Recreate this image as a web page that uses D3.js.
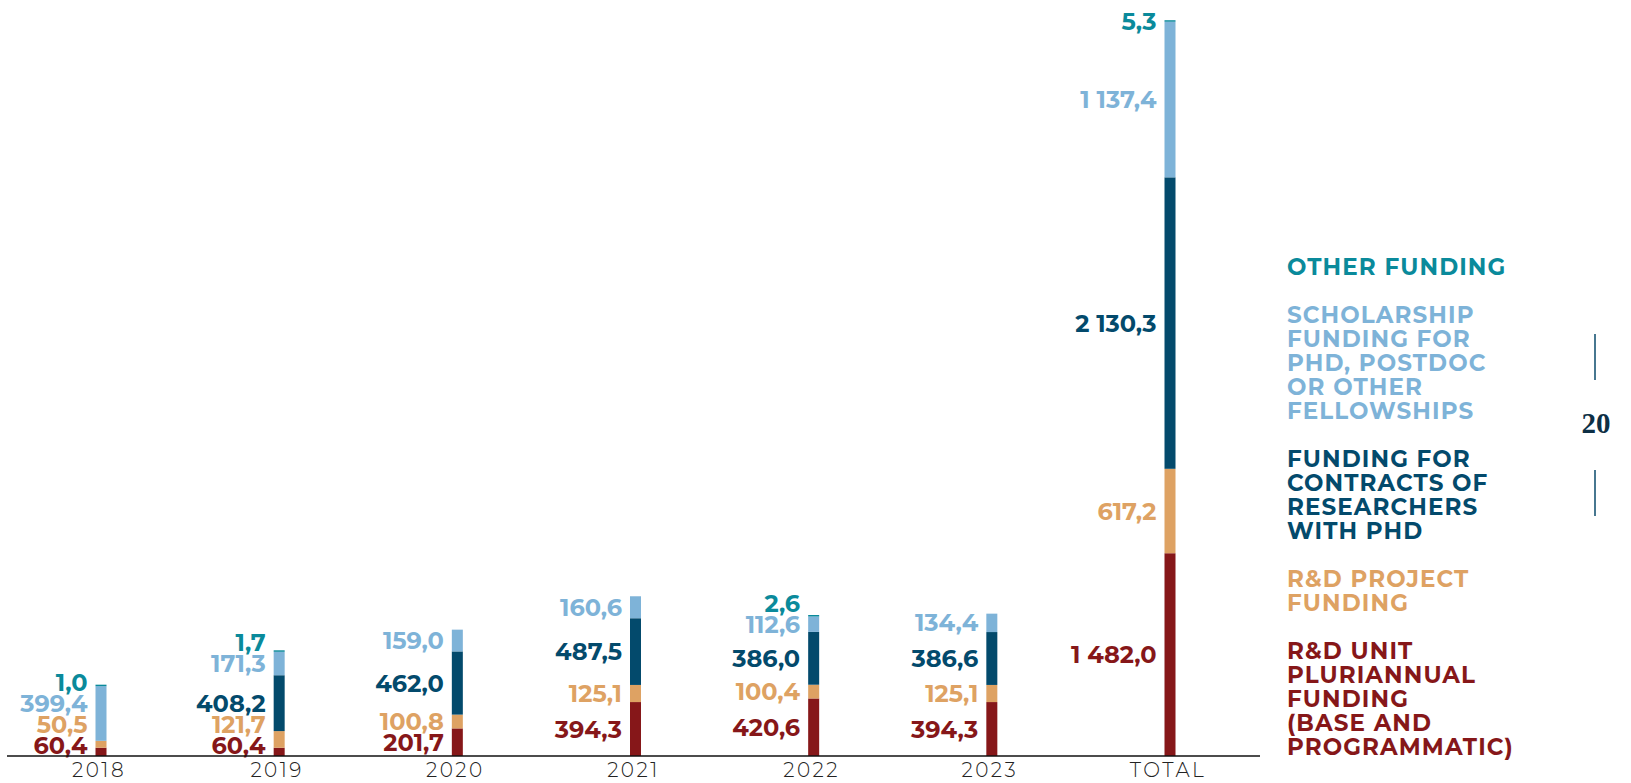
<!DOCTYPE html>
<html lang="en">
<head>
	<meta charset="UTF-8">
	<title>R&amp;D funding</title>
	<script src="https://cdn.jsdelivr.net/npm/d3@7"></script>
	<style>
	body {
		margin: 0;
		background-color: #ffffff;
	}

	.value {
		font-family: Montserrat, Inter, sans-serif;
		font-weight: 700;
		font-size: 24px;
	}

	.year {
		font-family: Montserrat, Inter, sans-serif;
		font-weight: 300;
		font-size: 20px;
		letter-spacing: 2.5px;
		fill: #222;
	}

	.legend {
		font-family: Montserrat, Inter, sans-serif;
		font-weight: 700;
		font-size: 23px;
		letter-spacing: 1.1px;
	}
	</style>
</head>
<body>
<div id="chart"></div>

<script>
	// values in million euro
	var years = ['2018', '2019', '2020', '2021', '2022', '2023', 'TOTAL'];
	var unitFunding = [60.4, 60.4, 201.7, 394.3, 420.6, 394.3, 1482.0];
	var projectFunding = [50.5, 121.7, 100.8, 125.1, 100.4, 125.1, 617.2];
	var contractFunding = [0, 408.2, 462.0, 487.5, 386.0, 386.6, 2130.3];
	var scholarshipFunding = [399.4, 171.3, 159.0, 160.6, 112.6, 134.4, 1137.4];
	var otherFunding = [1.0, 1.7, 0, 0, 2.6, 0, 5.3];

	var seriesKeys = ['unit', 'project', 'contract', 'scholarship', 'other'];
	var seriesColors = ['#861719', '#dea263', '#034a6c', '#7eb3d8', '#0a8a9b'];
	var legendLabels = {
		other: ['OTHER FUNDING'],
		scholarship: ['SCHOLARSHIP', 'FUNDING FOR', 'PHD, POSTDOC', 'OR OTHER', 'FELLOWSHIPS'],
		contract: ['FUNDING FOR', 'CONTRACTS OF', 'RESEARCHERS', 'WITH PHD'],
		project: ['R&D PROJECT', 'FUNDING'],
		unit: ['R&D UNIT', 'PLURIANNUAL', 'FUNDING', '(BASE AND', 'PROGRAMMATIC)']
	};

	var width = 1631, height = 783;
	var axisY = 756, topY = 21;
	var barWidth = 11;

	var svg = d3.select('#chart')
		.append('svg')
		.attr('width', width)
		.attr('height', height);

	var rows = years.map(function (y, i) {
		return {
			year: y,
			unit: unitFunding[i],
			project: projectFunding[i],
			contract: contractFunding[i],
			scholarship: scholarshipFunding[i],
			other: otherFunding[i]
		};
	});

	var stacked = d3.stack().keys(seriesKeys)(rows);

	var color = d3.scaleOrdinal()
		.domain(seriesKeys)
		.range(seriesColors);

	var x = d3.scalePoint()
		.domain(years)
		.range([101, 1170]);

	var y = d3.scaleLinear()
		.domain([0, d3.max(stacked[stacked.length - 1], function (d) { return d[1]; })])
		.range([axisY, topY]);

	var locale = d3.formatLocale({decimal: ',', thousands: ' ', grouping: [3], currency: ['', '']});
	var fmt = locale.format(',.1f');

	// bars
	var layer = svg.append('g').selectAll('g')
		.data(stacked)
		.enter().append('g')
		.attr('fill', function (d) { return color(d.key); });

	layer.selectAll('rect')
		.data(function (d) { return d.filter(function (s) { return s[1] - s[0] > 0; }); })
		.enter().append('rect')
		.attr('x', function (d) { return x(d.data.year) - barWidth / 2; })
		.attr('width', barWidth)
		.attr('y', function (d) {
			var h = y(d[0]) - y(d[1]);
			return h < 1.5 ? y(d[0]) - 1.5 : y(d[1]);
		})
		.attr('height', function (d) { return Math.max(1.5, y(d[0]) - y(d[1])); });

	// value labels, centred on the segment and pushed up when they would collide
	var labelGap = 21;
	var labels = [];
	years.forEach(function (yr, i) {
		var limit = axisY - 11;
		stacked.forEach(function (s) {
			var d = s[i];
			var v = d[1] - d[0];
			if (v <= 0) return;
			var c = Math.min((y(d[0]) + y(d[1])) / 2, limit);
			labels.push({year: yr, key: s.key, value: v, cy: c});
			limit = c - labelGap;
		});
	});

	svg.append('g').selectAll('text')
		.data(labels)
		.enter().append('text')
		.attr('class', 'value')
		.attr('x', function (d) { return x(d.year) - barWidth / 2 - 8; })
		.attr('y', function (d) { return d.cy; })
		.attr('dy', '0.36em')
		.attr('text-anchor', 'end')
		.attr('fill', function (d) { return color(d.key); })
		.text(function (d) { return fmt(d.value); });

	// baseline
	svg.append('line')
		.attr('x1', 7)
		.attr('x2', 1260)
		.attr('y1', axisY)
		.attr('y2', axisY)
		.attr('stroke', '#111')
		.attr('stroke-width', 1.4);

	svg.append('g').selectAll('text')
		.data(years)
		.enter().append('text')
		.attr('class', 'year')
		.attr('x', function (d) { return x(d) - 2; })
		.attr('y', 777)
		.attr('text-anchor', 'middle')
		.text(function (d) { return d; });

	// legend, top to bottom
	var lineH = 24;
	var lineY = 275;
	var legend = svg.append('g').attr('class', 'legend');
	seriesKeys.slice().reverse().forEach(function (k) {
		legendLabels[k].forEach(function (t) {
			legend.append('text')
				.attr('x', 1287)
				.attr('y', lineY)
				.attr('fill', color(k))
				.text(t);
			lineY += lineH;
		});
		lineY += lineH;
	});

	// page marker
	svg.append('line')
		.attr('x1', 1595).attr('x2', 1595)
		.attr('y1', 334).attr('y2', 380)
		.attr('stroke', '#0a4a6b').attr('stroke-width', 1.5);
	svg.append('line')
		.attr('x1', 1595).attr('x2', 1595)
		.attr('y1', 470).attr('y2', 516)
		.attr('stroke', '#0a4a6b').attr('stroke-width', 1.5);
	svg.append('text')
		.attr('x', 1596)
		.attr('y', 433)
		.attr('text-anchor', 'middle')
		.attr('fill', '#0d2f45')
		.style('font-family', '"Liberation Serif", serif')
		.style('font-weight', 700)
		.style('font-size', '29px')
		.text('20');
</script>
</body>
</html>
